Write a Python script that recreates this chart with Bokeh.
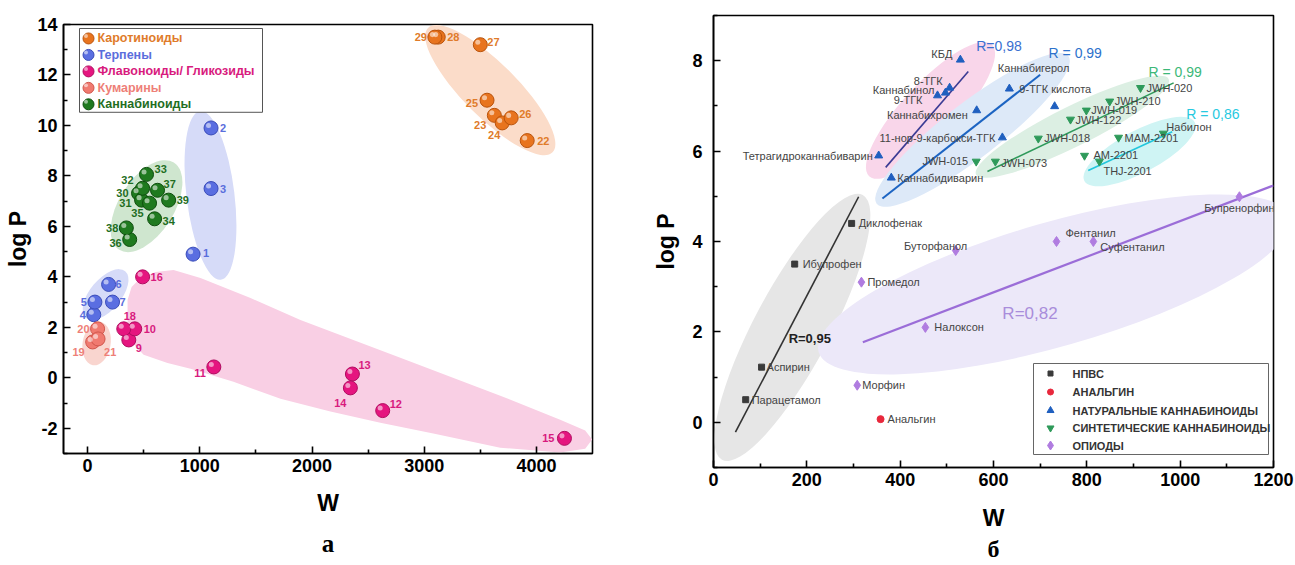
import numpy as np
from bokeh.plotting import figure
from bokeh.layouts import row
from bokeh.models import FixedTicker, Title, ColumnDataSource, Range1d
from bokeh.embed import file_html
from bokeh.resources import INLINE
from bokeh.core.properties import value

FONT = "Liberation Sans"

# ================= Panel а data =================
carot_id = ["22", "23", "24", "25", "26", "27", "28", "29"]
carot_w = [3918, 3625, 3695, 3560, 3775, 3500, 3125, 3095]
carot_logp = [9.4, 10.4, 10.1, 11.0, 10.3, 13.2, 13.5, 13.5]

terp_id = ["1", "2", "3", "4", "5", "6", "7"]
terp_w = [940, 1100, 1100, 55, 65, 187, 222]
terp_logp = [4.9, 9.9, 7.5, 2.5, 3.0, 3.7, 3.0]

flav_id = ["9", "10", "11", "12", "13", "14", "15", "16", "18"]
flav_w = [367, 420, 1125, 2630, 2360, 2342, 4250, 490, 322]
flav_logp = [1.5, 1.94, 0.43, -1.3, 0.15, -0.4, -2.4, 4.0, 1.94]

coum_id = ["19", "20", "21"]
coum_w = [45, 89, 93]
coum_logp = [1.42, 1.94, 1.54]

cann_id = ["30", "31", "32", "33", "34", "35", "36", "37", "38", "39"]
cann_w = [454, 481, 490, 525, 597, 552, 375, 623, 345, 722]
cann_logp = [7.31, 7.04, 7.51, 8.06, 6.3, 6.92, 5.48, 7.43, 5.94, 7.04]

legend_a = ["Каротиноиды", "Терпены", "Флавоноиды/ Гликозиды", "Кумарины", "Каннабиноиды"]

# highlighted regions (centre in data units, size in screen px, angle in degrees)
a_reg_w = [3589, 1095, 525, 160, 80]
a_reg_logp = [11.4, 7.23, 6.8, 3.3, 1.36]
a_reg_major = [176, 170, 103, 61, 44]
a_reg_minor = [54, 48, 55, 31, 28]
a_reg_angle = [-45, 97, 58, 50, 80]
a_reg_fill = ["#fbdcc9", "#d6dbf8", "#cfe6cf", "#d6dbf8", "#f9d5cf"]

flav_region_w = [356, 392, 472, 606, 766, 1006, 1452, 1897, 2787, 3678, 4212, 4435, 4497,
                 4435, 4212, 3678, 3081, 2609, 2164, 1719, 1300, 917, 712, 499, 401, 356]
flav_region_logp = [3.08, 3.60, 3.95, 4.19, 4.27, 3.95, 3.16, 2.29, 0.79, -0.71, -1.66, -2.09, -2.45,
                    -2.81, -2.96, -2.77, -2.21, -1.78, -1.34, -0.83, -0.16, 0.36, 0.59, 0.91, 1.38, 2.09]

# ================= Panel б data =================
nsaid_names = ["Диклофенак", "Ибупрофен", "Аспирин", "Парацетамол"]
nsaid_w = [296, 174, 103, 69]
nsaid_logp = [4.4, 3.5, 1.22, 0.5]

analg_names = ["Анальгин"]
analg_w = [358]
analg_logp = [0.07]

nat_names = ["КБД", "8-ТГК", "Каннабинол", "9-ТГК", "Каннабихромен", "11-нор-9-карбокси-ТГК",
             "Тетрагидроканнабиварин", "Каннабидиварин", "9-ТГК кислота", "Каннабигерол"]
nat_w = [529, 506, 497, 480, 564, 619, 354, 381, 634, 731]
nat_logp = [8.02, 7.4, 7.29, 7.23, 6.9, 6.3, 5.9, 5.41, 7.38, 6.99]

syn_names = ["JWH-015", "JWH-073", "JWH-018", "JWH-122", "JWH-019", "JWH-210", "JWH-020",
             "MAM-2201", "AM-2201", "THJ-2201", "Набилон"]
syn_w = [563, 604, 696, 765, 799, 849, 915, 868, 795, 827, 964]
syn_logp = [5.77, 5.77, 6.28, 6.7, 6.9, 7.1, 7.4, 6.3, 5.9, 5.77, 6.39]

opi_names = ["Бупренорфин", "Фентанил", "Суфентанил", "Буторфанол", "Промедол", "Налоксон", "Морфин"]
opi_w = [1127, 735, 814, 519, 317, 454, 308]
opi_logp = [4.99, 4.0, 4.0, 3.8, 3.1, 2.1, 0.82]

legend_b = ["НПВС", "АНАЛЬГИН", "НАТУРАЛЬНЫЕ КАННАБИНОИДЫ", "СИНТЕТИЧЕСКИЕ КАННАБИНОИДЫ", "ОПИОДЫ"]

# correlation lines (end points) and their R labels
fit_w0 = [47, 320, 369, 362, 587, 803]
fit_w1 = [311, 1200, 546, 700, 986, 983]
fit_p0 = [-0.22, 1.77, 5.64, 4.95, 5.55, 5.57]
fit_p1 = [4.99, 5.24, 7.76, 7.69, 7.51, 6.43]
fit_color = ["#333333", "#9b6dd8", "#3b3b94", "#1c64c2", "#2f9a5b", "#22c6dc"]
fit_width = [1.6, 2.2, 1.6, 2.0, 1.6, 1.6]

r_text = ["R=0,95", "R=0,82", "R=0,98", "R = 0,99", "R = 0,99", "R = 0,86"]
r_w = [161, 619, 563, 718, 932, 1013]
r_logp = [1.86, 2.41, 8.33, 8.18, 7.76, 6.83]
r_color = ["#222222", "#a98ddb", "#3a6fd0", "#2c72cc", "#3cb878", "#27c9e0"]
r_size = ["13px", "17px", "14px", "14px", "14px", "14px"]
r_style = ["bold", "normal", "normal", "normal", "normal", "normal"]

b_reg_w = [169, 730, 465, 555, 769, 913]
b_reg_logp = [2.1, 3.05, 6.9, 6.47, 6.54, 5.99]
b_reg_major = [300, 490, 180, 242, 215, 125]
b_reg_minor = [76, 124, 55, 55, 40, 42]
b_reg_angle = [62, 16, 47, 37.6, 26.4, 28]
b_reg_fill = ["#e6e6e6", "#ece8f9", "#f9d6ea", "#dde9f8", "#dcefe3", "#cff4f4"]


# ================= helpers =================
def add_labels(p, xs, ys, texts, offs, color, size, style):
    for al in ("left", "right", "center"):
        idx = [i for i, o in enumerate(offs) if o[2] == al]
        if not idx:
            continue
        src = ColumnDataSource(dict(
            x=[xs[i] for i in idx], y=[ys[i] for i in idx], t=[texts[i] for i in idx],
            dx=[offs[i][0] for i in idx], dy=[offs[i][1] for i in idx]))
        p.text(x="x", y="y", text="t", x_offset="dx", y_offset="dy", source=src,
               text_align=al, text_baseline="middle", text_color=color,
               text_font=value(FONT), text_font_size=size, text_font_style=style)


def style_axes(p, xt, xminor, yt, yminor, tick_size, label_size, x_std, lab_std_x, lab_std_y, y_std):
    p.xaxis.ticker = FixedTicker(ticks=xt, minor_ticks=xminor)
    p.yaxis.ticker = FixedTicker(ticks=yt, minor_ticks=yminor)
    for ax in (p.xaxis[0], p.yaxis[0]):
        ax.axis_line_width = 1.6
        ax.axis_line_color = "black"
        ax.major_tick_in = 7
        ax.major_tick_out = 0
        ax.minor_tick_in = 4
        ax.minor_tick_out = 0
        ax.major_tick_line_width = 1.6
        ax.minor_tick_line_width = 1.6
        ax.major_tick_line_color = "black"
        ax.minor_tick_line_color = "black"
        ax.major_label_text_font = FONT
        ax.major_label_text_font_style = "bold"
        ax.major_label_text_font_size = tick_size
        ax.major_label_text_color = "black"
        ax.axis_label_text_font = FONT
        ax.axis_label_text_font_style = "bold"
        ax.axis_label_text_font_size = label_size
        ax.axis_label_text_color = "black"
    p.xaxis.major_label_standoff = x_std
    p.yaxis.major_label_standoff = y_std
    p.xaxis.axis_label_standoff = lab_std_x
    p.yaxis.axis_label_standoff = lab_std_y
    p.xgrid.visible = False
    p.ygrid.visible = False
    p.outline_line_color = "black"
    p.outline_line_width = 1.6
    p.outline_line_alpha = 1.0
    p.frame_align = False


# ================= Panel а =================
AX0, AX1, AY0, AY1 = -215, 4500, -3, 14
A_L, A_R, A_T, A_B = 63, 592, 24, 454
pa = figure(width=640, height=565, output_backend="svg", toolbar_location=None,
            x_range=Range1d(AX0, AX1), y_range=Range1d(AY0, AY1),
            min_border_left=A_L, min_border_right=640 - A_R, min_border_top=A_T,
            min_border_bottom=565 - A_B, background_fill_color="white", border_fill_color="white")
pa.xaxis.axis_label = "W"
pa.yaxis.axis_label = "log P"
style_axes(pa, [0, 1000, 2000, 3000, 4000], [500, 1500, 2500, 3500],
           list(range(-2, 15, 2)), list(range(-3, 14, 2)), "18px", "23px", 5, 15, 3, 6)
pa.yaxis.major_label_overrides = {-2: "-2"}

APX = (AX1 - AX0) / (A_R - A_L)   # data units per pixel (x)
APY = (AY1 - AY0) / (A_B - A_T)   # data units per pixel (y)


def apx(xp, yp):
    return (AX0 + (xp - A_L) * APX, AY1 - (yp - A_T) * APY)


# regions
pa.patch(flav_region_w, flav_region_logp, fill_color="#f9cfe4", line_color=None)
pa.ellipse(x=a_reg_w, y=a_reg_logp, width=a_reg_major, height=a_reg_minor,
           angle=[np.deg2rad(a) for a in a_reg_angle], width_units="screen", height_units="screen",
           fill_color=a_reg_fill, line_color=None)

groups_a = [
    (carot_w, carot_logp, carot_id, "#e8741e", "#b9530c", "#e07b2a",
     [(10, 0, "left"), (-8, 10, "right"), (-8, 12, "center"), (-9, 3, "right"), (8, -4, "left"),
      (7, -3, "left"), (9, 0, "left"), (-8, 0, "right")]),
    (terp_w, terp_logp, terp_id, "#5a6ee1", "#3a4cb8", "#5a6edc",
     [(10, -1, "left"), (9, 0, "left"), (9, 0, "left"), (-8, 0, "right"), (-8, 0, "right"),
      (7, 0, "left"), (7, 0, "left")]),
    (flav_w, flav_logp, flav_id, "#e5157f", "#b00c60", "#d81b7e",
     [(7, 8, "left"), (9, 0, "left"), (-8, 6, "right"), (7, -7, "left"), (6, -9, "left"),
      (-4, 15, "right"), (-10, 0, "right"), (8, 0, "left"), (6, -13, "center")]),
    (coum_w, coum_logp, coum_id, "#f07a70", "#d0564c", "#ee7f78",
     [(-8, 10, "right"), (-8, 0, "right"), (6, 13, "left")]),
    (cann_w, cann_logp, cann_id, "#1f7a1f", "#0e4e0e", "#1f6e1f",
     [(-10, 0, "right"), (-10, 3, "right"), (-9, -8, "right"), (8, -5, "left"), (8, 2, "left"),
      (-6, 10, "right"), (-8, 3, "right"), (6, -6, "left"), (-8, 0, "right"), (8, 0, "left")]),
]


def sphere(p, xs, ys, col, dark, size, ppx, ppy):
    p.scatter(xs, ys, marker="circle", size=size, fill_color=col, line_color=dark, line_width=1)
    hx = [x - 2.5 * ppx for x in xs]
    hy = [y + 2.5 * ppy for y in ys]
    p.scatter(hx, hy, marker="circle", size=size * 0.36, fill_color="white", fill_alpha=0.55, line_color=None)


for xs, ys, ids, col, dark, tcol, offs in groups_a:
    sphere(pa, xs, ys, col, dark, 14, APX, APY)
    add_labels(pa, xs, ys, ids, offs, tcol, "11px", "bold")

# legend а
lx0, ly0 = apx(79, 28)
lx1, ly1 = apx(262, 112)
pa.quad(left=[lx0], right=[lx1], top=[ly0], bottom=[ly1], fill_color="white", line_color="#555555", line_width=1)
rows_a = [38, 54.5, 71, 87.5, 104]
for (xs, ys, ids, col, dark, tcol, offs), name, ry in zip(groups_a, legend_a, rows_a):
    mx, my = apx(88, ry)
    tx, _ = apx(97, ry)
    sphere(pa, [mx], [my], col, dark, 11, APX, APY)
    pa.text([tx], [my], text=[name], text_align="left", text_baseline="middle", text_color=tcol,
            text_font=value(FONT), text_font_size="12.5px", text_font_style="bold")

pa.add_layout(Title(text="а", align="center", text_font="Liberation Serif", text_font_size="25px",
                    text_font_style="bold", text_color="black", standoff=18), "below")

# ================= Panel б =================
BX0, BX1, BY0, BY1 = 0, 1200, -1, 9
B_L, B_R, B_T, B_B = 73, 633, 15, 467
pb = figure(width=655, height=565, output_backend="svg", toolbar_location=None,
            x_range=Range1d(BX0, BX1), y_range=Range1d(BY0, BY1),
            min_border_left=B_L, min_border_right=655 - B_R, min_border_top=B_T,
            min_border_bottom=565 - B_B, background_fill_color="white", border_fill_color="white")
pb.xaxis.axis_label = "W"
pb.yaxis.axis_label = "log P"
style_axes(pb, list(range(0, 1201, 200)), list(range(100, 1200, 200)),
           [0, 2, 4, 6, 8], [-1, 1, 3, 5, 7, 9], "18px", "23px", 5, 16, 10, 11)


def bpx(xp, yp):
    return (BX0 + (xp - B_L) / (B_R - B_L) * (BX1 - BX0),
            BY1 - (yp - B_T) / (B_B - B_T) * (BY1 - BY0))


pb.ellipse(x=b_reg_w, y=b_reg_logp, width=b_reg_major, height=b_reg_minor,
           angle=[np.deg2rad(a) for a in b_reg_angle], width_units="screen", height_units="screen",
           fill_color=b_reg_fill, line_color=None)

for w0, w1, p0, p1, c, lw in zip(fit_w0, fit_w1, fit_p0, fit_p1, fit_color, fit_width):
    pb.line([w0, w1], [p0, p1], line_color=c, line_width=lw)

groups_b = [
    (nsaid_w, nsaid_logp, nsaid_names, "square", 6, "#3a3a3a",
     [(7, 0, "left"), (8, 0, "left"), (5, 0, "left"), (6, 0, "left")]),
    (analg_w, analg_logp, analg_names, "circle", 7, "#e8283c", [(7, 0, "left")]),
    (nat_w, nat_logp, nat_names, "triangle", 8, "#1f5fbf",
     [(-8, -6, "right"), (-7, -7, "right"), (-11, -3, "right"), (-15, 4, "right"), (-9, 5, "right"),
      (-7, 0, "right"), (-6, 0, "right"), (6, 0, "left"), (10, 0, "left"), (-21, -38, "center")]),
    (syn_w, syn_logp, syn_names, "inverted_triangle", 8, "#2e9a5a",
     [(-8, 0, "right"), (6, 2, "left"), (6, 0, "left"), (5, 1, "left"), (5, 0, "left"), (5, 0, "left"),
      (6, 0, "left"), (6, 0, "left"), (9, -1, "left"), (4, 10, "left"), (3, -6, "left")]),
    (opi_w, opi_logp, opi_names, "diamond", 10, "#b07ce0",
     [(0, 11, "center"), (9, -9, "left"), (7, 5, "left"), (-20, -5, "center"), (6, 0, "left"),
      (9, 0, "left"), (5, 0, "left")]),
]

for xs, ys, names, mk, sz, col, offs in groups_b:
    pb.scatter(xs, ys, marker=mk, size=sz, fill_color=col, line_color=col)
    add_labels(pb, xs, ys, names, offs, "#444444", "11px", "normal")

for t, x, y, c, s, st in zip(r_text, r_w, r_logp, r_color, r_size, r_style):
    pb.text([x], [y], text=[t], text_align="left", text_baseline="middle", text_color=c,
            text_font=value(FONT), text_font_size=s, text_font_style=st)

# legend б
qx0, qy0 = bpx(1033 - 640, 363)
qx1, qy1 = bpx(1268 - 640, 454)
pb.quad(left=[qx0], right=[qx1], top=[qy0], bottom=[qy1], fill_color="white", line_color="#666666", line_width=1)
rows_b = [373, 391.5, 410, 427.5, 445]
for (xs, ys, names, mk, sz, col, offs), name, ry in zip(groups_b, legend_b, rows_b):
    mx, my = bpx(1050 - 640, ry)
    tx, _ = bpx(1072 - 640, ry)
    pb.scatter([mx], [my], marker=mk, size=sz - 1, fill_color=col, line_color=col)
    pb.text([tx], [my], text=[name], text_align="left", text_baseline="middle", text_color="#333333",
            text_font=value(FONT), text_font_size="11px", text_font_style="bold")

pb.add_layout(Title(text="б", align="center", offset=-22, text_font="Liberation Serif", text_font_size="24px",
                    text_font_style="bold", text_color="black", standoff=0), "below")

layout = row(pa, pb, spacing=0)
open("out.html", "w").write(file_html(layout, INLINE))
